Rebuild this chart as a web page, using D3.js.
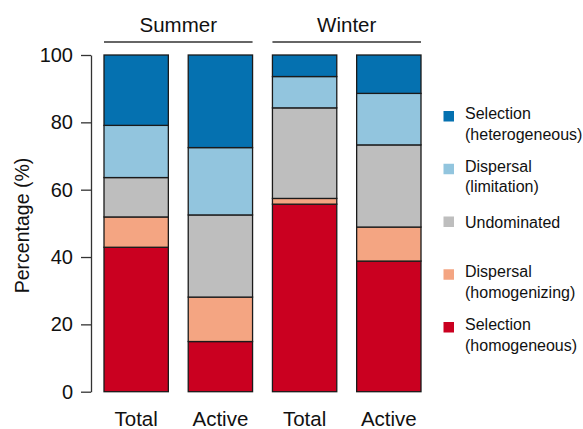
<!DOCTYPE html>
<html>
<head>
<meta charset="utf-8">
<script src="https://cdn.jsdelivr.net/npm/d3@7"></script>
<style>
  html, body { margin: 0; padding: 0; background: #fff; }
  svg { display: block; font-family: "Liberation Sans", Arial, sans-serif; }
</style>
</head>
<body>
<svg id="chart" width="583" height="429"></svg>
<script>
// Bars: season group and fraction type
const barLabels = ["Total", "Active", "Total", "Active"];
const barGroups = ["Summer", "Summer", "Winter", "Winter"];
const groups = ["Summer", "Winter"];

// Assembly processes, stacked bottom to top
const processes = [
  "Selection (homogeneous)",
  "Dispersal (homogenizing)",
  "Undominated",
  "Dispersal (limitation)",
  "Selection (heterogeneous)"
];
const processColors = ["#ca0020", "#f4a582", "#bebebe", "#92c5de", "#0571b0"];

// Percentage per process (same order as processes) for each bar
const selectionHomogeneous  = [42.9, 14.9, 55.7, 38.8];
const dispersalHomogenizing = [9.0, 13.2, 1.7, 10.1];
const undominated           = [11.7, 24.4, 26.9, 24.4];
const dispersalLimitation   = [15.5, 20.0, 9.3, 15.3];
const selectionHeterogeneous = [20.9, 27.5, 6.4, 11.4];

const yTicks = [0, 20, 40, 60, 80, 100];

// Legend text, two lines where needed (top to bottom)
const legendLines = [
  ["Selection", "(heterogeneous)"],
  ["Dispersal", "(limitation)"],
  ["Undominated"],
  ["Dispersal", "(homogenizing)"],
  ["Selection", "(homogeneous)"]
];

const seriesValues = [selectionHomogeneous, dispersalHomogenizing, undominated,
                      dispersalLimitation, selectionHeterogeneous];

const rows = barLabels.map((label, i) => {
  const row = { id: i };
  processes.forEach((p, k) => { row[p] = seriesValues[k][i]; });
  return row;
});

const svg = d3.select("#chart");

const x = d3.scaleBand()
  .domain(d3.range(barLabels.length))
  .range([104, 421])
  .paddingInner(0.236)
  .paddingOuter(0);

const y = d3.scaleLinear().domain([0, 100]).range([391.7, 55]);

const stack = d3.stack().keys(processes);
const stacked = stack(rows);

// Stacked bars
svg.append("g")
  .selectAll("g")
  .data(stacked)
  .join("g")
    .attr("fill", (d, i) => processColors[i])
  .selectAll("rect")
  .data(d => d)
  .join("rect")
    .attr("x", d => x(d.data.id))
    .attr("width", x.bandwidth())
    .attr("y", d => y(d[1]))
    .attr("height", d => y(d[0]) - y(d[1]))
    .attr("stroke", "#1a1a1a")
    .attr("stroke-width", 1.3);

// Y axis
const yAxis = svg.append("g")
  .attr("transform", "translate(91,0)")
  .call(d3.axisLeft(y).tickValues(yTicks).tickSize(10).tickSizeOuter(0).tickPadding(8));
yAxis.select(".domain").attr("stroke", "#333").attr("stroke-width", 1.3);
yAxis.selectAll(".tick line").attr("stroke", "#333").attr("stroke-width", 1.3);
yAxis.selectAll(".tick text")
  .attr("font-size", 20)
  .attr("fill", "#111")
  .attr("font-family", "Liberation Sans, Arial, sans-serif");

// Y axis title
svg.append("text")
  .attr("transform", "translate(29,225.5) rotate(-90)")
  .attr("text-anchor", "middle")
  .attr("font-size", 19.5)
  .attr("fill", "#111")
  .text("Percentage (%)");

// X category labels
svg.append("g")
  .selectAll("text")
  .data(barLabels)
  .join("text")
    .attr("x", (d, i) => x(i) + x.bandwidth() / 2)
    .attr("y", 426)
    .attr("text-anchor", "middle")
    .attr("font-size", 20.5)
    .attr("fill", "#111")
    .text(d => d);

// Season headers with bracket lines
groups.forEach(g => {
  const idx = d3.range(barGroups.length).filter(i => barGroups[i] === g);
  const x0 = x(d3.min(idx));
  const x1 = x(d3.max(idx)) + x.bandwidth();
  svg.append("line")
    .attr("x1", x0).attr("x2", x1)
    .attr("y1", 42).attr("y2", 42)
    .attr("stroke", "#333")
    .attr("stroke-width", 1.5);
  svg.append("text")
    .attr("x", (x0 + x1) / 2)
    .attr("y", 32)
    .attr("text-anchor", "middle")
    .attr("font-size", 20.5)
    .attr("fill", "#111")
    .text(g);
});

// Legend (top to bottom = top of stack first)
const legendColors = processColors.slice().reverse();
const legend = svg.append("g");
legendLines.forEach((lines, i) => {
  const top = 111 + i * 52.75;
  const item = legend.append("g");
  item.append("rect")
    .attr("x", 443.5)
    .attr("y", top)
    .attr("width", 10.5)
    .attr("height", 10.5)
    .attr("fill", legendColors[i]);
  const txt = item.append("text")
    .attr("font-size", 16)
    .attr("fill", "#111");
  lines.forEach((ln, j) => {
    txt.append("tspan")
      .attr("x", 465)
      .attr("y", top + (lines.length === 1 ? 11 : 8) + j * 20.5)
      .text(ln);
  });
});
</script>
</body>
</html>
